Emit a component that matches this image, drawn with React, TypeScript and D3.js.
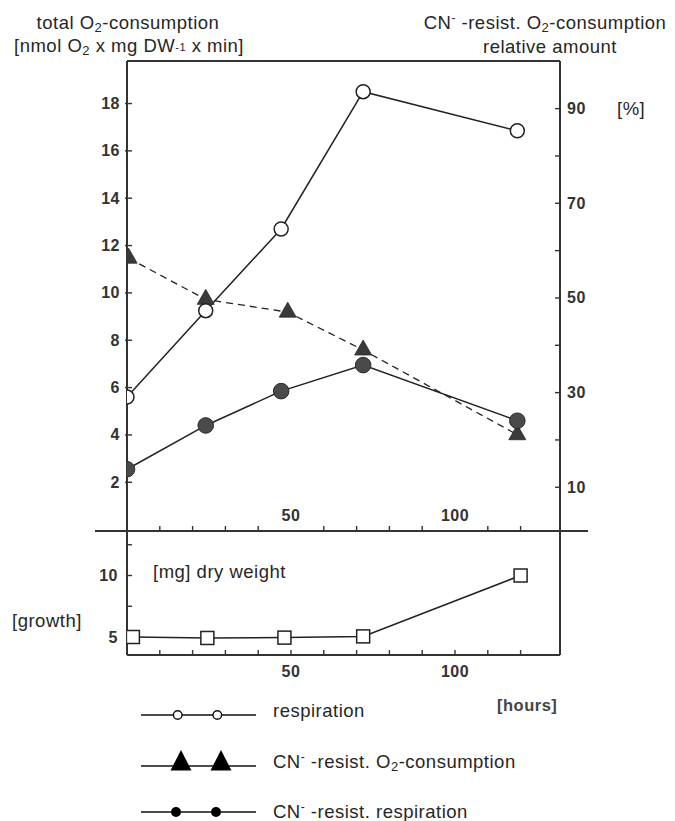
import React from "react";
import * as d3 from "d3";

// ---- data ----
const hoursResp = [0, 24, 47, 72, 119];
const respiration = [5.6, 9.25, 12.7, 18.5, 16.85];
const cnResistResp = [2.55, 4.4, 5.85, 6.95, 4.6];
const hoursTri = [0.5, 24, 49, 72, 119];
const cnResistPct = [58.4, 49.7, 47.0, 39.0, 21.1];
const hoursGrowth = [1.8, 24.5, 48, 72, 120];
const dryWeight = [5.0, 4.92, 4.95, 5.05, 10.0];

const leftTicks = [2, 4, 6, 8, 10, 12, 14, 16, 18];
const rightLabelTicks = [10, 30, 50, 70, 90];
const rightMinorTicks = [20, 40, 60, 80];
const xTicksAll = [10, 20, 30, 40, 50, 60, 70, 80, 90, 100, 110, 120];
const xLabels = [50, 100];
const growthLabels = [5, 10];
const growthMinor = [7.5, 12.5];

const FONT = "'Liberation Sans', Arial, Helvetica, sans-serif";
const INK = "#262626";

export default function App() {
  const x = d3.scaleLinear().domain([0, 120]).range([127, 520.6]);
  const yL = d3.scaleLinear().domain([0, 20]).range([529.6, 56.2]);
  const yR = d3.scaleLinear().domain([0, 100]).range([534.6, 61.3]);
  const yG = d3.scaleLinear().domain([5, 10]).range([637, 575.5]);

  const left = 127, right = 560, top = 61, mid = 531, bottom = 655;

  const lineResp = d3.line<number>().x((_, i) => x(hoursResp[i])).y((d) => yL(d));
  const lineTri = d3.line<number>().x((_, i) => x(hoursTri[i])).y((d) => yR(d));
  const lineG = d3.line<number>().x((_, i) => x(hoursGrowth[i])).y((d) => yG(d));

  const tri = (cx: number, cy: number, w: number, h: number) =>
    `M${cx - w / 2},${cy + h / 3}L${cx + w / 2},${cy + h / 3}L${cx},${cy - (2 * h) / 3}Z`;

  const txt = { fontFamily: FONT, fill: INK } as const;
  const big = { ...txt, fontSize: 18.5, letterSpacing: 0.5 } as const;
  const tick = { ...txt, fontSize: 16, fontWeight: 700, letterSpacing: 0.5, fill: "#333" } as const;

  return (
    <svg width={675} height={821} style={{ position: "absolute", left: 0, top: 0, background: "#fff" }}>
      <defs>
        <clipPath id="plotclip">
          <rect x={left} y={0} width={600} height={821} />
        </clipPath>
      </defs>

      {/* headers */}
      <text {...big} x={128} y={29} textAnchor="middle">
        total O<tspan fontSize={13} dy={3}>2</tspan>
        <tspan dy={-3}>-consumption</tspan>
      </text>
      <text {...big} x={129} y={52} textAnchor="middle">
        [nmol O<tspan fontSize={13} dy={3}>2</tspan>
        <tspan dy={-3}> x mg DW</tspan>
        <tspan fontSize={11} dy={-1}>-1</tspan>
        <tspan dy={1}> x min]</tspan>
      </text>
      <text {...big} x={545} y={29} textAnchor="middle">
        CN<tspan fontSize={12} dy={-7}>-</tspan>
        <tspan dy={7}> -resist. O</tspan>
        <tspan fontSize={13} dy={3}>2</tspan>
        <tspan dy={-3}>-consumption</tspan>
      </text>
      <text {...big} x={550} y={53} textAnchor="middle">relative amount</text>
      <text {...big} x={617} y={115}>[%]</text>

      {/* axes */}
      <g stroke="#333" strokeWidth={2} fill="none">
        <line x1={left} y1={top} x2={right} y2={top} />
        <line x1={left} y1={top} x2={left} y2={bottom} />
        <line x1={right} y1={top} x2={right} y2={bottom} />
        <line x1={95} y1={mid} x2={588} y2={mid} />
        <line x1={left} y1={bottom} x2={right} y2={bottom} />
      </g>
      <g stroke="#333" strokeWidth={1.4}>
        {leftTicks.map((t) => (
          <line key={"lt" + t} x1={left - 2} x2={left + 5} y1={yL(t)} y2={yL(t)} />
        ))}
        {[...rightLabelTicks, ...rightMinorTicks].map((t) => (
          <line key={"rt" + t} x1={right - 5} x2={right} y1={yR(t)} y2={yR(t)} />
        ))}
        {xTicksAll.filter((t) => !xLabels.includes(t)).map((t) => (
          <line key={"xt" + t} x1={x(t)} x2={x(t)} y1={mid - 5} y2={mid} />
        ))}
        {xTicksAll.map((t) => (
          <line key={"xb" + t} x1={x(t)} x2={x(t)} y1={bottom - 5} y2={bottom} />
        ))}
        {[...growthLabels, ...growthMinor].map((t) => (
          <line key={"gt" + t} x1={left} x2={left + 5} y1={yG(t)} y2={yG(t)} />
        ))}
      </g>

      {/* tick labels */}
      {leftTicks.map((t) => (
        <text key={"ll" + t} {...tick} x={120} y={yL(t) + 5.5} textAnchor="end">{t}</text>
      ))}
      {rightLabelTicks.map((t) => (
        <text key={"rl" + t} {...tick} x={567} y={yR(t) + 5.5}>{t}</text>
      ))}
      {xLabels.map((t) => (
        <text key={"xl" + t} {...tick} x={x(t)} y={521} textAnchor="middle">{t}</text>
      ))}
      {xLabels.map((t) => (
        <text key={"xbl" + t} {...tick} x={x(t)} y={677} textAnchor="middle">{t}</text>
      ))}
      {growthLabels.map((t) => (
        <text key={"gl" + t} {...tick} x={118} y={yG(t) + 5.5} textAnchor="end">{t}</text>
      ))}

      <text {...big} x={153} y={578}>[mg] dry weight</text>
      <text {...big} x={12} y={627}>[growth]</text>
      <text {...tick} fontSize={16.5} x={497} y={711} fill="#444">[hours]</text>

      {/* series lines */}
      <g fill="none" stroke="#222" strokeWidth={1.5}>
        <path d={lineResp(respiration) || ""} />
        <path d={lineResp(cnResistResp) || ""} />
        <path d={lineTri(cnResistPct) || ""} strokeDasharray="7,5" strokeWidth={1.3} />
        <path d={lineG(dryWeight) || ""} />
      </g>

      {/* markers */}
      <g clipPath="url(#plotclip)">
        {cnResistPct.map((v, i) => (
          <path key={"tr" + i} d={tri(x(hoursTri[i]), yR(v), 17, 15)} fill="#3a3a3a" stroke="#2a2a2a" strokeWidth={0.8} />
        ))}
        {respiration.map((v, i) => (
          <circle key={"oc" + i} cx={x(hoursResp[i])} cy={yL(v)} r={7} fill="#fff" stroke="#222" strokeWidth={1.5} />
        ))}
        {cnResistResp.map((v, i) => (
          <circle key={"fc" + i} cx={x(hoursResp[i])} cy={yL(v)} r={7.8} fill="#4a4a4a" stroke="#2a2a2a" strokeWidth={1} />
        ))}
        {dryWeight.map((v, i) => (
          <rect key={"sq" + i} x={x(hoursGrowth[i]) - 6.5} y={yG(v) - 6.5} width={13} height={13} fill="#fff" stroke="#222" strokeWidth={1.5} />
        ))}
      </g>

      {/* legend */}
      <g stroke="#111" strokeWidth={1.5}>
        <line x1={141} x2={256} y1={715} y2={715} />
        <line x1={141} x2={256} y1={766} y2={766} />
        <line x1={141} x2={256} y1={812} y2={812} />
      </g>
      {[177.7, 217.3].map((cx) => (
        <circle key={"lo" + cx} cx={cx} cy={715} r={4.3} fill="#fff" stroke="#111" strokeWidth={1.4} />
      ))}
      {[181, 221].map((cx) => (
        <path key={"lt" + cx} d={`M${cx - 10.5},${770.5}L${cx + 10.5},${770.5}L${cx},${750}Z`} fill="#000" />
      ))}
      {[176, 216].map((cx) => (
        <circle key={"lf" + cx} cx={cx} cy={812} r={5} fill="#000" />
      ))}
      <text {...big} x={273} y={717}>respiration</text>
      <text {...big} x={273} y={768}>
        CN<tspan fontSize={12} dy={-7}>-</tspan>
        <tspan dy={7}> -resist. O</tspan>
        <tspan fontSize={13} dy={3}>2</tspan>
        <tspan dy={-3}>-consumption</tspan>
      </text>
      <text {...big} x={273} y={818}>
        CN<tspan fontSize={12} dy={-7}>-</tspan>
        <tspan dy={7}> -resist. respiration</tspan>
      </text>
    </svg>
  );
}
